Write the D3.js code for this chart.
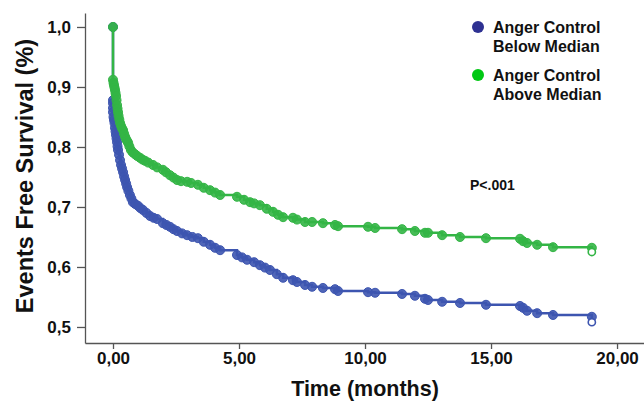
<!DOCTYPE html>
<html>
<head>
<meta charset="utf-8">
<script src="https://cdn.jsdelivr.net/npm/d3@7"></script>
<style>
  body { margin: 0; background: #fff; }
  text { font-family: "Liberation Sans", Arial, Helvetica, sans-serif; font-weight: bold; }
</style>
</head>
<body>
<div id="chart"></div>
<script>
// Kaplan-Meier curves, [months, survival]
var belowCurve = [
  [0, 1.0], [0, 0.878], [0, 0.873], [0, 0.865], [0, 0.858], [0.02, 0.85], [0.04, 0.845],
  [0.06, 0.84], [0.08, 0.832], [0.1, 0.826], [0.12, 0.82], [0.14, 0.814], [0.16, 0.808],
  [0.18, 0.801], [0.2, 0.795], [0.24, 0.787], [0.28, 0.778], [0.32, 0.77], [0.36, 0.764],
  [0.4, 0.758], [0.44, 0.751], [0.48, 0.745], [0.52, 0.739], [0.56, 0.733], [0.61, 0.727],
  [0.67, 0.72], [0.73, 0.714], [0.79, 0.708], [0.88, 0.705], [0.99, 0.702], [1.09, 0.698],
  [1.19, 0.695], [1.33, 0.69], [1.47, 0.685], [1.61, 0.682], [1.75, 0.68], [1.98, 0.673],
  [2.12, 0.67], [2.26, 0.667], [2.4, 0.663], [2.54, 0.66], [2.74, 0.656], [2.94, 0.653],
  [3.15, 0.65], [3.37, 0.648], [3.6, 0.642], [3.85, 0.637], [4.05, 0.632], [4.25, 0.628],
  [4.92, 0.62], [5.12, 0.616], [5.32, 0.612], [5.6, 0.608], [5.83, 0.603], [6.03, 0.599],
  [6.23, 0.595], [6.5, 0.588], [6.75, 0.582], [7.14, 0.578], [7.3, 0.575], [7.62, 0.57],
  [7.9, 0.567], [8.33, 0.565], [8.81, 0.563], [8.93, 0.56], [10.12, 0.558], [10.4, 0.557],
  [11.47, 0.555], [11.98, 0.552], [12.38, 0.547], [12.5, 0.545], [13.06, 0.542],
  [13.77, 0.54], [14.8, 0.537], [16.15, 0.535], [16.27, 0.532], [16.43, 0.527],
  [16.83, 0.523], [17.46, 0.52], [19.0, 0.517]
];
var aboveCurve = [
  [0, 1.0], [0, 0.912], [0.02, 0.907], [0.04, 0.903], [0.06, 0.899], [0.08, 0.895],
  [0.1, 0.89], [0.12, 0.885], [0.14, 0.878], [0.16, 0.87], [0.18, 0.864], [0.2, 0.858],
  [0.22, 0.852], [0.25, 0.846], [0.28, 0.84], [0.32, 0.835], [0.36, 0.831], [0.4, 0.828],
  [0.44, 0.822], [0.48, 0.817], [0.52, 0.813], [0.56, 0.81], [0.6, 0.807], [0.65, 0.801],
  [0.71, 0.795], [0.78, 0.791], [0.87, 0.788], [0.96, 0.785], [1.07, 0.782], [1.17, 0.779],
  [1.27, 0.777], [1.4, 0.774], [1.59, 0.77], [1.75, 0.766], [1.98, 0.762], [2.1, 0.758],
  [2.26, 0.753], [2.4, 0.749], [2.54, 0.745], [2.7, 0.743], [2.94, 0.742], [3.1, 0.74],
  [3.37, 0.737], [3.6, 0.732], [3.85, 0.728], [4.05, 0.724], [4.25, 0.72], [4.92, 0.717],
  [5.2, 0.712], [5.44, 0.708], [5.6, 0.706], [5.83, 0.703], [6.1, 0.697], [6.35, 0.692],
  [6.55, 0.687], [6.75, 0.683], [7.14, 0.682], [7.3, 0.679], [7.62, 0.675], [7.9, 0.675],
  [8.33, 0.673], [8.81, 0.67], [8.93, 0.668], [10.12, 0.667], [10.4, 0.665], [11.47, 0.663],
  [11.98, 0.66], [12.38, 0.657], [12.5, 0.657], [13.06, 0.653], [13.77, 0.65], [14.8, 0.648],
  [16.15, 0.647], [16.27, 0.643], [16.43, 0.64], [16.83, 0.637], [17.46, 0.633], [19.0, 0.632]
];
// censored at end of follow-up (open circles)
var belowCensored = [[19.0, 0.508]];
var aboveCensored = [[19.0, 0.625]];

var seriesNames = [["Anger Control", "Below Median"], ["Anger Control", "Above Median"]];
var xTicks = [0, 5, 10, 15, 20];
var yTicks = [0.5, 0.6, 0.7, 0.8, 0.9, 1.0];

var width = 644, height = 402;
var lineBlue = "#3d55b0", lineGreen = "#33b545";
var dotBlue = "#2e3192", dotGreen = "#00c814";

var svg = d3.select("#chart").append("svg")
    .attr("width", width)
    .attr("height", height);

var x = d3.scaleLinear().domain([-1.111, 21.07]).range([85, 644]);
var y = d3.scaleLinear().domain([0.4733, 1.0233]).range([343, 13]);

var comma = function(digits) {
  return function(d) { return d3.format("." + digits + "f")(d).replace(".", ","); };
};

var xAxis = svg.append("g")
    .attr("transform", "translate(0,343)")
    .call(d3.axisBottom(x).tickValues(xTicks).tickFormat(comma(2))
      .tickSizeInner(6).tickSizeOuter(0).tickPadding(3));

var yAxis = svg.append("g")
    .attr("transform", "translate(85,0)")
    .call(d3.axisLeft(y).tickValues(yTicks).tickFormat(comma(1))
      .tickSizeInner(8).tickSizeOuter(0).tickPadding(6));

[xAxis, yAxis].forEach(function(a) {
  a.selectAll("path, line").attr("stroke", "#555").attr("stroke-width", 1.3);
  a.selectAll("text").attr("fill", "#111").style("font-size", "17px")
    .style("font-family", "'Liberation Sans', Arial, sans-serif").style("font-weight", "bold");
});

svg.append("text")
    .attr("x", 365).attr("y", 396)
    .attr("text-anchor", "middle")
    .style("font-size", "21.5px")
    .attr("fill", "#111")
    .text("Time (months)");

svg.append("text")
    .attr("transform", "translate(33,176) rotate(-90)")
    .attr("text-anchor", "middle")
    .style("font-size", "23.5px")
    .attr("fill", "#111")
    .text("Events Free Survival (%)");

var line = d3.line()
    .x(function(d) { return x(d[0]); })
    .y(function(d) { return y(d[1]); })
    .curve(d3.curveStepAfter);

var series = [
  {curve: belowCurve, cens: belowCensored, color: lineBlue},
  {curve: aboveCurve, cens: aboveCensored, color: lineGreen}
];

series.forEach(function(s) {
  var g = svg.append("g");
  g.append("path")
    .attr("d", line(s.curve.concat(s.cens)))
    .attr("fill", "none")
    .attr("stroke", s.color)
    .attr("stroke-width", 2.5);
  g.selectAll("circle.pt").data(s.curve).enter().append("circle")
    .attr("class", "pt")
    .attr("cx", function(d) { return x(d[0]); })
    .attr("cy", function(d) { return y(d[1]); })
    .attr("r", 4.5)
    .attr("fill", s.color)
    .attr("fill-opacity", 0.9)
    .attr("stroke", s.color)
    .attr("stroke-width", 1);
  g.selectAll("circle.cen").data(s.cens).enter().append("circle")
    .attr("class", "cen")
    .attr("cx", function(d) { return x(d[0]); })
    .attr("cy", function(d) { return y(d[1]); })
    .attr("r", 3.6)
    .attr("fill", "#fff")
    .attr("stroke", s.color)
    .attr("stroke-width", 1.6);
});

// legend
var legend = svg.selectAll("g.legend").data(seriesNames).enter().append("g")
    .attr("class", "legend")
    .attr("transform", function(d, i) { return "translate(478," + (27 + i * 48) + ")"; });
legend.append("circle")
    .attr("r", 6)
    .attr("fill", function(d, i) { return i === 0 ? dotBlue : dotGreen; });
legend.append("text")
    .attr("x", 15).attr("y", 6)
    .style("font-size", "16px").attr("fill", "#111")
    .text(function(d) { return d[0]; });
legend.append("text")
    .attr("x", 15).attr("y", 25)
    .style("font-size", "16px").attr("fill", "#111")
    .text(function(d) { return d[1]; });

svg.append("text")
    .attr("x", 470).attr("y", 190)
    .style("font-size", "14px").attr("fill", "#111")
    .text("P<.001");
</script>
</body>
</html>
